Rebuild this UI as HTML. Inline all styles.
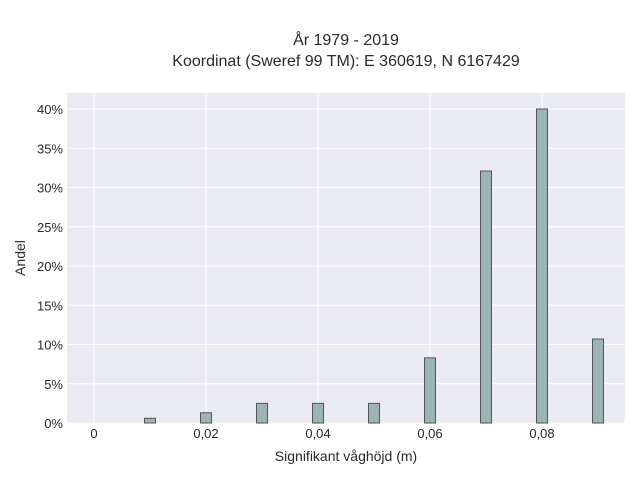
<!DOCTYPE html>
<html><head><meta charset="utf-8"><style>
body{margin:0;background:#fff;}
svg text{font-family:"Liberation Sans",sans-serif;fill:#2a2a2a;}
</style></head><body>
<svg width="640" height="480" xmlns="http://www.w3.org/2000/svg">
<text x="346" y="45" text-anchor="middle" font-size="16">År 1979 - 2019</text>
<text x="346" y="66" text-anchor="middle" font-size="16">Koordinat (Sweref 99 TM): E 360619, N 6167429</text>
<rect x="67" y="93" width="558" height="330" fill="#eaeaf2"/>
<g id="grid"></g>
<g id="bars"></g>
<g id="ticks"></g>
<text x="346" y="461" text-anchor="middle" font-size="14">Signifikant våghöjd (m)</text>
<text x="0" y="0" transform="translate(25,258) rotate(-90)" text-anchor="middle" font-size="14">Andel</text>
</svg>
<script>
const categories=[0.01,0.02,0.03,0.04,0.05,0.06,0.07,0.08,0.09];
const shares=[0.6,1.3,2.5,2.5,2.5,8.3,32.1,40.0,10.7];
const xTicks=[0,0.02,0.04,0.06,0.08];
const xTickLabels=["0","0,02","0,04","0,06","0,08"];
const yTicks=[0,5,10,15,20,25,30,35,40];
const yTickLabels=["0%","5%","10%","15%","20%","25%","30%","35%","40%"];
const NS="http://www.w3.org/2000/svg";
const xs=v=>94+v*5600;
const ys=v=>423-v*7.85;
function mk(tag,attrs,parent){const e=document.createElementNS(NS,tag);for(const k in attrs)e.setAttribute(k,attrs[k]);document.getElementById(parent).appendChild(e);return e;}
yTicks.forEach((t,i)=>{
  const l=mk('line',{x1:67,x2:625,y1:ys(t),y2:ys(t),stroke:'#fff','stroke-width':1},'grid');
  
  
  const tx=mk('text',{x:63,y:ys(t)+5,'text-anchor':'end','font-size':13},'ticks');
  tx.textContent=yTickLabels[i];
  
  
});
xTicks.forEach((t,i)=>{
  const l=mk('line',{x1:xs(t),x2:xs(t),y1:93,y2:423,stroke:'#fff','stroke-width':1},'grid');
  
  
  const tx=mk('text',{x:xs(t),y:438,'text-anchor':'middle','font-size':13},'ticks');
  tx.textContent=xTickLabels[i];
  
  
});
categories.forEach((c,i)=>{
  const y=ys(shares[i]);
  const r=mk('rect',{x:xs(c)-5.5,y:y,width:11,height:423-y,fill:'#9bb5b7',stroke:'#555','stroke-width':1},'bars');
  
  
});
</script>
</body></html>
